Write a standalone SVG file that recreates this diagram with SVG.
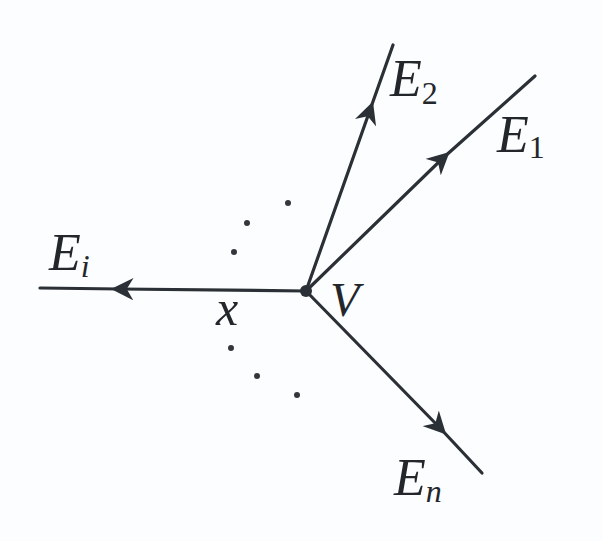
<svg xmlns="http://www.w3.org/2000/svg" width="602" height="541" viewBox="0 0 602 541">
<style>
.e{fill:none;stroke:#2b3036;stroke-width:3.2;stroke-linecap:round}
.t{font-family:"Liberation Serif","DejaVu Serif",serif;font-style:italic;fill:#23272c}
.dot{fill:#33373c}
</style>
<defs>
<marker id="ah" viewBox="0 0 10 10" refX="6" refY="5" markerWidth="7" markerHeight="7" markerUnits="strokeWidth" orient="auto">
<path d="M0,0 L10,5 L0,10 L3,5 Z" fill="#2b3036"/>
</marker>
</defs>
<rect width="602" height="541" fill="#fcfdfe"/>
<g id="connectors">
<path id="e2" class="e" d="M306,291 L370,110 L393,45" marker-mid="url(#ah)"/>
<path id="e1" class="e" d="M306,291 L443,158 L535,76" marker-mid="url(#ah)"/>
<path id="ei" class="e" d="M306,291 L120,289 L40,288" marker-mid="url(#ah)"/>
<path id="en" class="e" d="M306,291 L440,428 L482,473" marker-mid="url(#ah)"/>
</g>
<g id="V"><circle cx="306" cy="291" r="6" fill="#2b3036"/><text class="t" x="330" y="316" font-size="48">V</text></g>
<g id="x"><text class="t" x="216" y="325" font-size="50">x</text></g>
<g id="E2"><text class="t" x="390" y="96" font-size="52">E<tspan font-size="32" dy="8" font-style="normal">2</tspan></text></g>
<g id="E1"><text class="t" x="497" y="152" font-size="52">E<tspan font-size="32" dy="6" font-style="normal">1</tspan></text></g>
<g id="Ei"><text class="t" x="49" y="270" font-size="52">E<tspan font-size="32" dy="7">i</tspan></text></g>
<g id="En"><text class="t" x="394" y="495" font-size="52">E<tspan font-size="32" dy="7">n</tspan></text></g>
<g id="dots">
<circle class="dot" cx="288" cy="203" r="3"/>
<circle class="dot" cx="247" cy="223" r="3"/>
<circle class="dot" cx="234" cy="252" r="3"/>
<circle class="dot" cx="231" cy="348" r="3"/>
<circle class="dot" cx="257" cy="376" r="3"/>
<circle class="dot" cx="297" cy="395" r="3"/>
</g>
</svg>
